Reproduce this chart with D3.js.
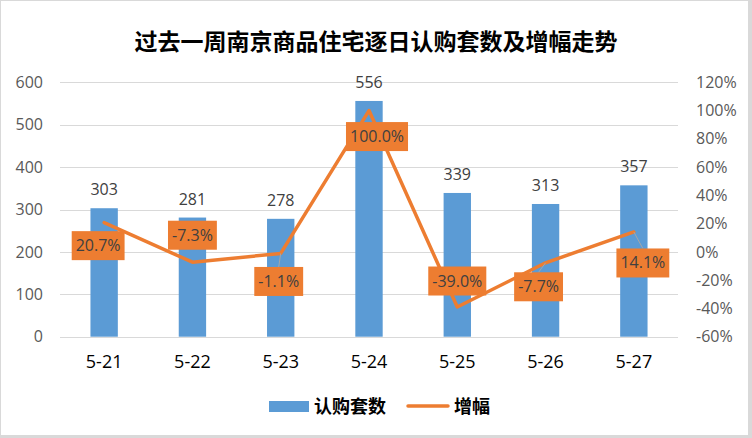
<!DOCTYPE html>
<html><head><meta charset="utf-8">
<script src="https://cdn.jsdelivr.net/npm/d3@7"></script>
<style>
html,body{margin:0;padding:0;background:#d9d9d9;}
svg{display:block;}
</style></head>
<body>
<svg id="c" width="752" height="438"></svg>
<script>
const title = "过去一周南京商品住宅逐日认购套数及增幅走势";
const categories = ["5-21","5-22","5-23","5-24","5-25","5-26","5-27"];
const units = [303,281,278,556,339,313,357];
const growth = [20.7,-7.3,-1.1,100.0,-39.0,-7.7,14.1];
const leftTicks = [0,100,200,300,400,500,600];
const rightTicks = [-60,-40,-20,0,20,40,60,80,100,120];
const seriesNames = ["认购套数","增幅"];
// label placement offsets (dx, dy) relative to point, and whether a leader line is drawn
const labelOffsets = [[-6,23,0],[0,-27,0],[-2,28,1],[8,26,0],[0,-26,0],[-7,24,1],[9,31,1]];

const svg = d3.select("#c");
const font = "'Noto Sans CJK SC','Noto Sans',sans-serif";
const numFont = "'Open Sans','Noto Sans',sans-serif";
svg.append("rect").attr("x",1).attr("y",1).attr("width",747).attr("height",434).attr("fill","#fff");

const m = {l:60, r:678, t:82.3, b:336.7};
const x = d3.scaleBand().domain(categories).range([m.l,m.r]).paddingInner(0.69).paddingOuter(0.345);
const yL = d3.scaleLinear().domain([0,600]).range([m.b,m.t]);
const yR = d3.scaleLinear().domain([-60,120]).range([m.b,m.t]);

svg.append("text").attr("x",376).attr("y",50).attr("text-anchor","middle")
  .attr("font-family",font).attr("font-weight","bold").attr("font-size",23).attr("fill","#000").text(title);

// gridlines
svg.append("g").selectAll("line").data(leftTicks).join("line")
  .attr("x1",m.l).attr("x2",m.r).attr("y1",d=>Math.round(yL(d))+0.5).attr("y2",d=>Math.round(yL(d))+0.5)
  .attr("stroke","#d9d9d9").attr("stroke-width",1);

// left axis
const gl = svg.append("g").attr("transform",`translate(${m.l},0)`)
  .call(d3.axisLeft(yL).tickValues(leftTicks).tickSize(0).tickPadding(17));
gl.select(".domain").remove();
gl.selectAll("text").attr("font-family",numFont).attr("font-size",16).attr("fill","#595959");

// right axis
const gr = svg.append("g").attr("transform",`translate(${m.r},0)`)
  .call(d3.axisRight(yR).tickValues(rightTicks).tickSize(0).tickPadding(18).tickFormat(d=>d+"%"));
gr.select(".domain").remove();
gr.selectAll("text").attr("font-family",numFont).attr("font-size",16).attr("fill","#595959");

// x axis
const gx = svg.append("g").attr("transform",`translate(0,${m.b})`)
  .call(d3.axisBottom(x).tickSize(0).tickPadding(19));
gx.select(".domain").remove();
gx.selectAll("text").attr("font-family",numFont).attr("font-size",18).attr("fill","#000");

// bars
svg.append("g").selectAll("rect").data(units).join("rect")
  .attr("x",(d,i)=>x(categories[i])).attr("width",x.bandwidth())
  .attr("y",d=>yL(d)).attr("height",d=>m.b-yL(d)).attr("fill","#5b9bd5");

svg.append("g").selectAll("text").data(units).join("text")
  .attr("x",(d,i)=>x(categories[i])+x.bandwidth()/2).attr("y",d=>yL(d)-13)
  .attr("text-anchor","middle").attr("font-family",numFont).attr("font-size",16).attr("fill","#404040")
  .text(d=>d);

// line
const cx = i => x(categories[i])+x.bandwidth()/2;
const line = d3.line().x((d,i)=>cx(i)).y(d=>yR(d));
svg.append("path").datum(growth).attr("d",line).attr("fill","none")
  .attr("stroke","#ed7d31").attr("stroke-width",3.5).attr("stroke-linejoin","round").attr("stroke-linecap","round");

// labels
const lg = svg.append("g");
growth.forEach((v,i)=>{
  const px = cx(i), py = yR(v);
  const [dx,dy,lead] = labelOffsets[i];
  const lx = px+dx, ly = py+dy;
  const t = v.toFixed(1)+"%";
  const g = lg.append("g");
  const txt = g.append("text").attr("x",lx).attr("y",ly+5.5).attr("text-anchor","middle")
    .attr("font-family",numFont).attr("font-size",16).attr("fill","#404040").text(t);
  const w = txt.node().getComputedTextLength()+8;
  const h = 29;
  if(lead){
    const ey = dy>0 ? ly-h/2 : ly+h/2;
    lg.insert("line",":first-child").attr("x1",px).attr("y1",py).attr("x2",lx).attr("y2",ey)
      .attr("stroke","#a6a6a6").attr("stroke-width",1);
  }
  g.insert("rect","text").attr("x",lx-w/2).attr("y",ly-h/2).attr("width",w).attr("height",h).attr("fill","#ed7d31");
});

// legend
const leg = svg.append("g");
leg.append("rect").attr("x",269).attr("y",401).attr("width",40).attr("height",11).attr("fill","#5b9bd5");
leg.append("text").attr("x",314).attr("y",413).attr("font-family",font).attr("font-weight","bold").attr("font-size",18).attr("fill","#000").text(seriesNames[0]);
leg.append("line").attr("x1",408).attr("x2",448).attr("y1",406).attr("y2",406).attr("stroke","#ed7d31").attr("stroke-width",3.5).attr("stroke-linecap","round");
leg.append("text").attr("x",454).attr("y",413).attr("font-family",font).attr("font-weight","bold").attr("font-size",18).attr("fill","#000").text(seriesNames[1]);
</script>
</body></html>
